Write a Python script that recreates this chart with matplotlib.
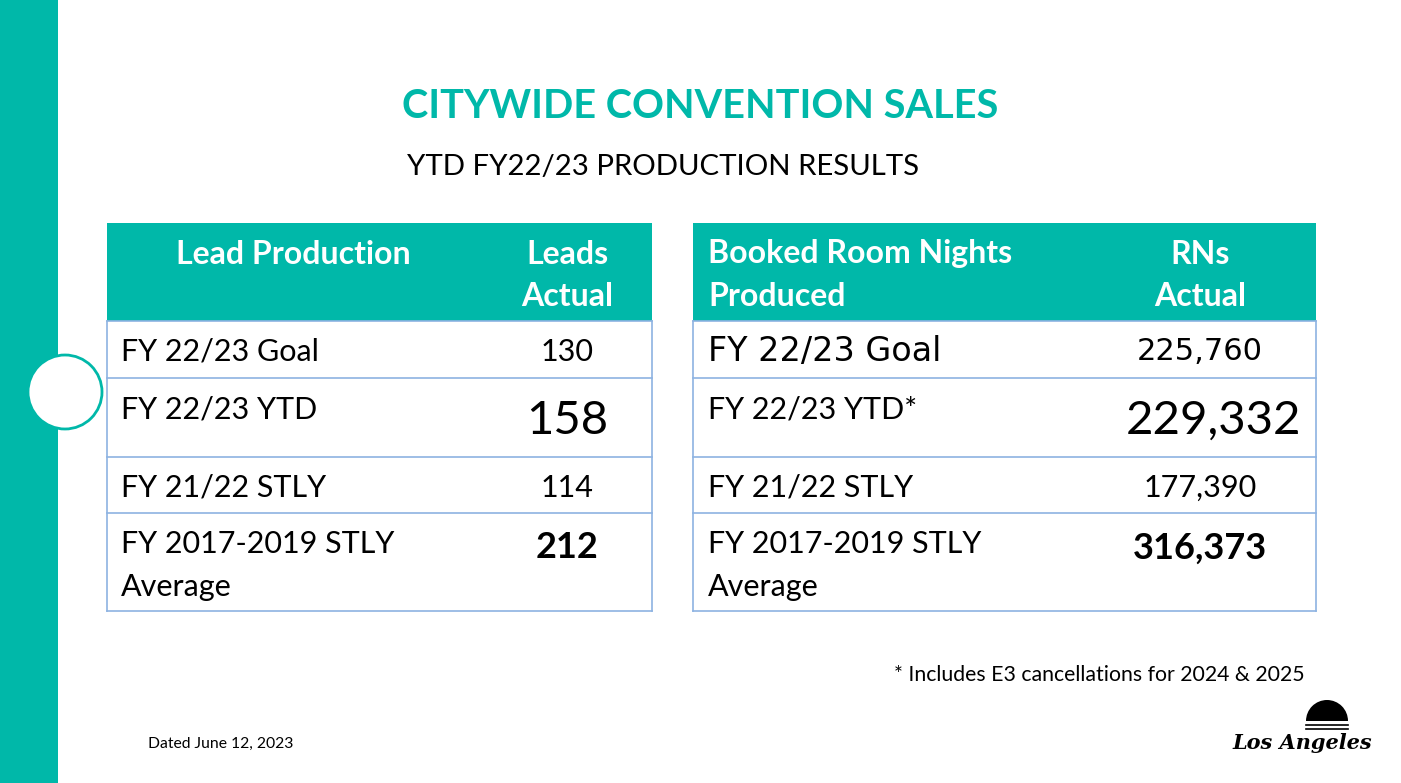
import matplotlib
matplotlib.use("Agg")
import matplotlib.pyplot as plt
from matplotlib.patches import Rectangle, Circle, Wedge

TEAL = "#00B8A9"
GRID = "#8DB3E2"
FONT = "Lato"

# --- data ---
title = "CITYWIDE CONVENTION SALES"
subtitle = "YTD FY22/23 PRODUCTION RESULTS"

lead_header = ["Lead Production", "Leads\nActual"]
lead_labels = ["FY 22/23 Goal", "FY 22/23 YTD", "FY 21/22 STLY", "FY 2017-2019 STLY\nAverage"]
lead_values = ["130", "158", "114", "212"]

rn_header = ["Booked Room Nights\nProduced", "RNs\nActual"]
rn_labels = ["FY 22/23 Goal", "FY 22/23 YTD*", "FY 21/22 STLY", "FY 2017-2019 STLY\nAverage"]
rn_values = ["225,760", "229,332", "177,390", "316,373"]

footnote = "* Includes E3 cancellations for 2024 & 2025"
dated = "Dated June 12, 2023"

# value styling per row: (fontsize, weight, y offset from row top)
value_style = [(22, "normal", 31), (34, "normal", 43), (22, "normal", 31), (26, "bold", 35)]

W, H = 1401, 783
fig = plt.figure(figsize=(W / 100, H / 100), dpi=100)
ax = fig.add_axes([0, 0, 1, 1])
ax.set_xlim(0, W)
ax.set_ylim(H, 0)
ax.axis("off")

# left band and circle
ax.add_patch(Rectangle((0, 0), 58, H, color=TEAL, lw=0))
ax.add_patch(Circle((65, 392), 37, facecolor="white", edgecolor=TEAL, lw=2, zorder=3))

ax.text(700, 107, title, ha="center", va="center", fontsize=28.5, weight="bold",
        color=TEAL, family=FONT)
ax.text(663, 167, subtitle, ha="center", va="center", fontsize=21.2, color="black",
        family=FONT)

row_edges = [223, 321, 378, 457, 513, 611]
LINE = 43


def put_lines(x, y0, text, ha, **kw):
    for k, line in enumerate(text.split("\n")):
        ax.text(x, y0 + k * LINE, line, ha=ha, va="center", **kw)


def draw_table(x0, x1, label_x, val_x, header, labels, values, head_x, head_ha,
               goal_family, goal_size, val_shift):
    ax.add_patch(Rectangle((x0, row_edges[0]), x1 - x0, row_edges[1] - row_edges[0],
                           color=TEAL, lw=0))
    for y in row_edges[1:]:
        ax.plot([x0, x1], [y, y], color=GRID, lw=1.2)
    ax.plot([x0, x0], [row_edges[1], row_edges[-1]], color=GRID, lw=1.2)
    ax.plot([x1, x1], [row_edges[1], row_edges[-1]], color=GRID, lw=1.2)

    # header
    hk = dict(fontsize=23, weight="bold", color="white", family=FONT)
    put_lines(head_x, row_edges[0] + 31, header[0], head_ha, **hk)
    put_lines(val_x, row_edges[0] + 31, header[1], "center", **hk)

    for i, (lab, val) in enumerate(zip(labels, values)):
        top = row_edges[i + 1]
        if i == 0:
            lk = dict(fontsize=goal_size, color="black", family=goal_family)
        else:
            lk = dict(fontsize=22, color="black", family=FONT)
        put_lines(label_x, top + 31, lab, "left", **lk)
        fs, wt, dy = value_style[i]
        vfam = goal_family if i == 0 else FONT
        vx = val_x + (val_shift if i == 1 else 0)
        ax.text(vx, top + dy, val, ha="center", va="center", fontsize=fs, weight=wt,
                color="black", family=vfam)


draw_table(107, 652, 121, 567, lead_header, lead_labels, lead_values, 293, "center",
           FONT, 22, 0)
draw_table(693, 1316, 708, 1200, rn_header, rn_labels, rn_values, 708, "left",
           "DejaVu Sans", 24, 13)

ax.text(1305, 675, footnote, ha="right", va="center", fontsize=15.3, color="black",
        family=FONT)
ax.text(148, 744, dated, ha="left", va="center", fontsize=11.3, color="black", family=FONT)

# logo: half sun over script wordmark
ax.add_patch(Wedge((1327, 721), 21, 180, 360, color="black", lw=0))
for yy in (725, 729):
    ax.plot([1306, 1348], [yy, yy], color="black", lw=1.2)
ax.text(1302, 743, "Los Angeles", ha="center", va="center", fontsize=15, weight="bold",
        style="italic", color="black", family="DejaVu Serif")

fig.savefig("out.png", dpi=100)
